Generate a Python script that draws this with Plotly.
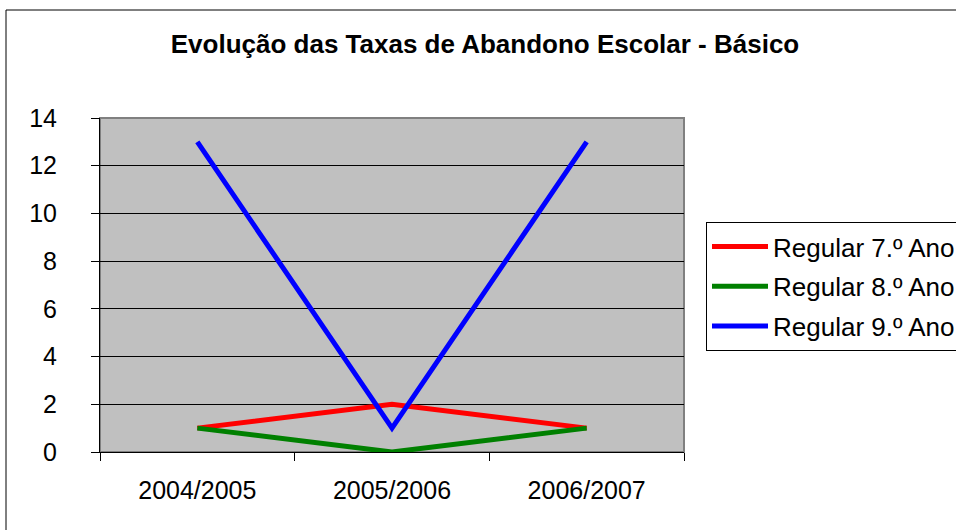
import plotly.graph_objects as go

categories = ["2004/2005", "2005/2006", "2006/2007"]
regular_7 = [1, 2, 1]
regular_8 = [1, 0, 1]
regular_9 = [13, 1, 13]
series_names = ["Regular 7.º Ano", "Regular 8.º Ano", "Regular 9.º Ano"]
series_colors = ["#FF0000", "#008000", "#0000FF"]
y_ticks = [0, 2, 4, 6, 8, 10, 12, 14]

W, H = 956, 530
L, R, T, B = 100, 684, 118, 452
pw, ph = R - L, B - T

fig = go.Figure()
for name, vals, col in zip(series_names, [regular_7, regular_8, regular_9], series_colors):
    fig.add_trace(go.Scatter(
        x=categories, y=vals, mode="lines", name=name,
        legendgroup=name,
        line=dict(color=col, width=5),
    ))

font = "Arial, Liberation Sans, sans-serif"
FS = 25
fig.update_layout(
    width=W, height=H,
    margin=dict(l=L, r=W - R, t=T, b=H - B, pad=0, autoexpand=False),
    paper_bgcolor="white",
    plot_bgcolor="#C0C0C0",
    font=dict(family=font, size=FS, color="black"),
    title=dict(
        text="<b>Evolução das Taxas de Abandono Escolar - Básico</b>",
        x=485 / W, xanchor="center",
        y=1 - 44 / H, yanchor="middle",
        font=dict(size=26, family=font, color="black"),
    ),
    showlegend=True,
    legend=dict(
        x=(706 - L) / pw, xanchor="left",
        y=(B - 222) / ph, yanchor="top",
        bordercolor="black", borderwidth=1,
        bgcolor="white",
        font=dict(size=26, family=font),
        tracegroupgap=3,
        itemwidth=56,
    ),
    xaxis=dict(
        type="category",
        range=[-0.5, 2.5],
        tickson="boundaries",
        ticks="outside", ticklen=8, tickcolor="black", tickwidth=1,
        showline=True, linecolor="black", linewidth=1,
        showgrid=False, zeroline=False,
        ticklabelstandoff=16,
        tickfont=dict(size=FS, family=font),
    ),
    yaxis=dict(
        range=[0, 14], tickvals=y_ticks,
        ticks="outside", ticklen=8, tickcolor="black", tickwidth=1,
        showline=True, linecolor="black", linewidth=1,
        showgrid=True, gridcolor="black", gridwidth=1,
        zeroline=False,
        ticklabelstandoff=29,
        tickfont=dict(size=FS, family=font),
    ),
    shapes=[
        dict(type="rect", xref="paper", yref="paper",
             x0=0, x1=1, y0=0, y1=1,
             line=dict(color="#808080", width=2), layer="below"),
        dict(type="rect", xref="paper", yref="paper",
             x0=(6 - L) / pw, x1=(W + 30 - L) / pw,
             y0=(B - (H + 30)) / ph, y1=(B - 10) / ph,
             line=dict(color="black", width=1), layer="below"),
    ],
)

fig.write_html("out.html", config={"displayModeBar": False},
               post_script="document.body.style.margin='0';")
